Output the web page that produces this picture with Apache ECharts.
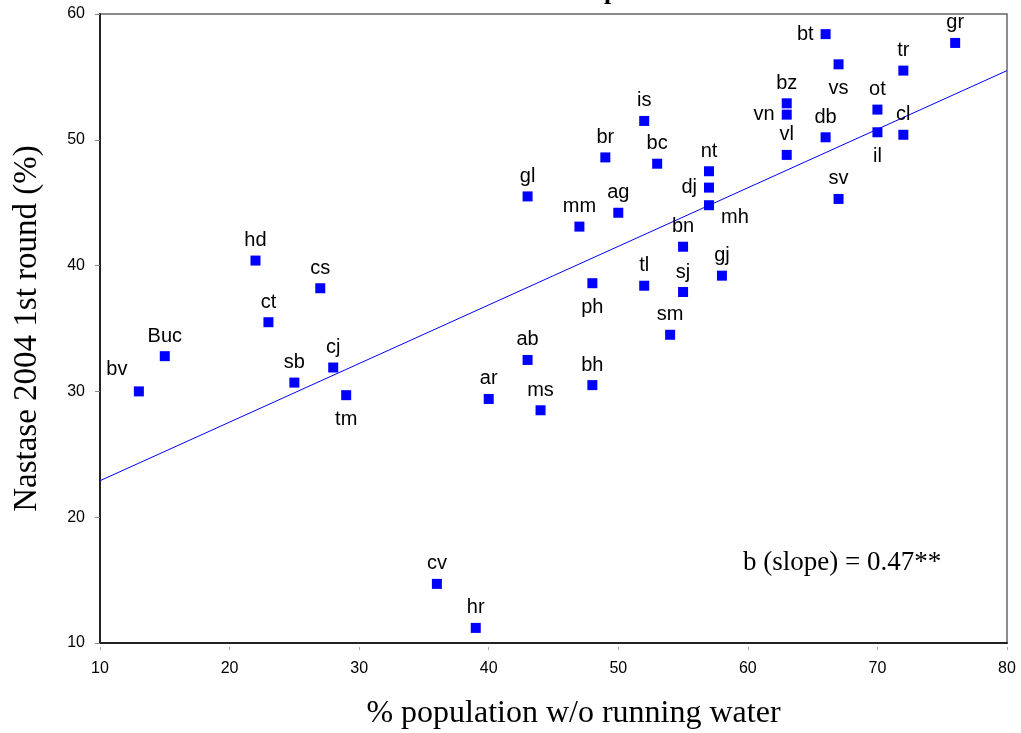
<!DOCTYPE html>
<html>
<head>
<meta charset="utf-8">
<script src="https://cdn.jsdelivr.net/npm/echarts@6/dist/echarts.min.js"></script>
<style>
html,body{margin:0;padding:0;background:#fff;}
#chart{width:1021px;height:733px;}
</style>
</head>
<body>
<div id="chart"></div>
<script>
// ---- data ----
var names  = ['bv','Buc','hd','cs','ct','sb','cj','tm','ar','ab','ms','bh','cv','hr','gl','mm','ag','br','is','bc','nt','dj','mh','bn','gj','ph','tl','sj','sm','vl','vn','bz','db','sv','bt','vs','ot','il','cl','tr','gr'];
var waterX = [13,15,22,27,23,25,28,29,40,43,44,48,36,39,43,47,50,49,52,53,57,57,57,55,58,48,52,55,54,63,63,63,66,67,66,67,70,70,72,72,76];
var nastaseY = [30.0,32.8,40.4,38.2,35.5,30.7,31.9,29.7,29.4,32.5,28.5,30.5,14.7,11.2,45.5,43.1,44.2,48.6,51.5,48.1,47.5,46.2,44.8,41.5,39.2,38.6,38.4,37.9,34.5,48.8,52.0,52.9,50.2,45.3,58.4,56.0,52.4,50.6,50.4,55.5,57.7];
var labelPlace = ['tl','top','top','top','top','top','top','bottom','top','top','top','top','top','top','top','top','top','top','top','top','top','left','br','top','top','bottom','top','top','top','top','left','top','top','top','left','bottom','top','bottom','top','top','top'];
var fitX = [10, 80];
var fitY = [22.9, 55.5];
var xTicks = [10,20,30,40,50,60,70,80];
var yTicks = [10,20,30,40,50,60];
var xTitle = '% population w/o running water';
var yTitle = 'Nastase 2004 1st round (%)';
var slopeNote = 'b (slope) = 0.47**';

// ---- build ----
function labelFor(p){
  if (p === 'tl') return {position:'top', distance:5, offset:[-22,-2]};
  if (p === 'br') return {position:'right', distance:7, offset:[0,12]};
  if (p === 'left') return {position:'left', distance:7};
  if (p === 'bottom') return {position:'bottom', distance:9};
  return {position:'top', distance:5};
}
var pts = names.map(function(n,i){
  return {name:n, value:[waterX[i], nastaseY[i]], label:labelFor(labelPlace[i])};
});
var fitData = fitX.map(function(x,i){return [x, fitY[i]];});

var chart = echarts.init(document.getElementById('chart'), null, {renderer:'canvas'});
var tickFont = 'Liberation Sans, Arial';
chart.setOption({
  animation:false,
  backgroundColor:'#fff',
  grid:{left:100, right:14, top:14, bottom:90, outerBoundsMode:'none', containLabel:false,
        show:true, borderColor:'#666', borderWidth:1.5, backgroundColor:'transparent'},
  xAxis:[{
    type:'value', min:10, max:80, interval:10, position:'bottom',
    axisLine:{show:true, onZero:false, lineStyle:{color:'#222', width:2}},
    axisTick:{show:false},
    splitLine:{show:false},
    axisLabel:{show:true, margin:18, formatter:function(v){return xTicks.indexOf(v)>=0?String(v):'';}, fontFamily:tickFont, fontSize:16, color:'#000'},
    name:xTitle, nameLocation:'middle', nameGap:55,
    nameTextStyle:{fontFamily:'Liberation Serif, Times New Roman', fontSize:32, color:'#000', padding:[0,0,0,40]}
  },{
    type:'value', min:10, max:80, interval:10, position:'bottom', offset:4,
    axisLine:{show:false}, axisLabel:{show:false}, splitLine:{show:false},
    axisTick:{show:true, length:3, lineStyle:{color:'#aaa', width:1}}
  }],
  yAxis:{
    type:'value', min:10, max:60, interval:10,
    axisLine:{show:true, onZero:false, lineStyle:{color:'#222', width:2}},
    axisTick:{show:true, length:5, lineStyle:{color:'#888', width:1}},
    splitLine:{show:false},
    axisLabel:{margin:15, formatter:function(v){return yTicks.indexOf(v)>=0?String(v):'';}, fontFamily:tickFont, fontSize:16, color:'#000'},
    name:yTitle, nameLocation:'middle', nameGap:56,
    nameTextStyle:{fontFamily:'Liberation Serif, Times New Roman', fontSize:33, color:'#000'}
  },
  series:[{
    type:'line', data:fitData, showSymbol:false, symbol:'none', silent:true,
    lineStyle:{color:'#0000ff', width:1}, z:2
  },{
    type:'scatter', data:pts, symbol:'rect', symbolSize:10,
    itemStyle:{color:'#0000ff', opacity:1}, z:3,
    label:{show:true, formatter:'{b}', fontFamily:'Liberation Sans, Arial', fontSize:20, color:'#000'}
  }],
  graphic:[{
    type:'text', left:743, top:549,
    style:{text:slopeNote, font:'27px "Liberation Serif", "Times New Roman", serif', fill:'#000'}
  },{
    type:'text', left:604, top:-21,
    style:{text:'p', font:'bold 26px "Liberation Serif", "Times New Roman", serif', fill:'#000'}
  }]
});
</script>
</body>
</html>
